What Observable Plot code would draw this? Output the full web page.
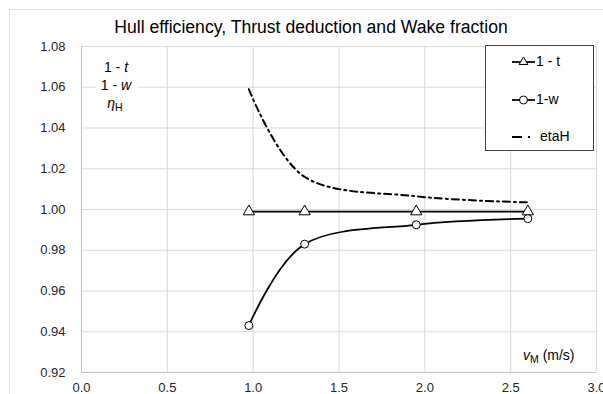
<!DOCTYPE html>
<html>
<head>
<meta charset="utf-8">
<script src="https://cdn.jsdelivr.net/npm/d3@7"></script>
<script src="https://cdn.jsdelivr.net/npm/@observablehq/plot@0.6"></script>
<style>
  html, body { margin: 0; padding: 0; background: #fff; overflow: hidden; }
  #wrap { position: relative; width: 603px; height: 394px; }
  #border { position: absolute; left: 9px; top: 9px; width: 700px; height: 500px; border: 1px solid #eeee80; box-sizing: border-box; }
  #chart { position: absolute; left: 0; top: 0; }
</style>
</head>
<body>
<div id="wrap"><div id="border"></div><div id="chart"></div></div>
<script>
const title = "Hull efficiency, Thrust deduction and Wake fraction";
const speeds = [0.975, 1.30, 1.95, 2.60];
const oneMinusT = [0.999, 0.999, 0.999, 0.999];
const oneMinusW = [0.943, 0.983, 0.9925, 0.9955];
const etaH = [1.059, 1.016, 1.0065, 1.0035];
const seriesNames = ["1 - t", "1-w", "etaH"];
const xTicks = [0, 0.5, 1.0, 1.5, 2.0, 2.5, 3.0];
const yTicks = [0.92, 0.94, 0.96, 0.98, 1.00, 1.02, 1.04, 1.06, 1.08];

const rows = (ys) => speeds.map((v, i) => ({x: v, y: ys[i]}));
const tData = rows(oneMinusT), wData = rows(oneMinusW), eData = rows(etaH);
const FONT = "'Liberation Sans', Arial, sans-serif";

const W = 603, H = 394, ML = 81, MR = 7, MT = 46, MB = 22;

const plot = Plot.plot({
  width: W, height: H,
  marginLeft: ML, marginRight: MR, marginTop: MT, marginBottom: MB,
  style: {fontFamily: FONT, fontSize: "13px", color: "#262626", background: "transparent", overflow: "visible"},
  x: {domain: [0, 3], ticks: xTicks, tickFormat: d3.format(".1f"), label: null},
  y: {domain: [0.92, 1.08], ticks: yTicks, tickFormat: d3.format(".2f"), label: null},
  marks: [
    Plot.gridX(xTicks, {stroke: "#d9d9d9", strokeOpacity: 1, strokeWidth: 1}),
    Plot.gridY(yTicks, {stroke: "#d9d9d9", strokeOpacity: 1, strokeWidth: 1}),
    Plot.ruleX([0], {stroke: "#bfbfbf"}),
    Plot.ruleY([0.92], {stroke: "#bfbfbf"}),
    Plot.axisX({ticks: xTicks, tickSize: 0, tickPadding: 10, tickFormat: d3.format(".1f"), fontSize: 13}),
    Plot.axisY({ticks: yTicks, tickSize: 0, tickPadding: 16, tickFormat: d3.format(".2f"), fontSize: 13}),
    Plot.line(eData, {x: "x", y: "y", curve: "cardinal", stroke: "#000", strokeWidth: 2, strokeDasharray: "7,4,2,4"}),
    Plot.line(tData, {x: "x", y: "y", curve: "linear", stroke: "#000", strokeWidth: 1.75}),
    Plot.line(wData, {x: "x", y: "y", curve: "cardinal", stroke: "#000", strokeWidth: 1.75}),
    Plot.dot(tData, {x: "x", y: "y", symbol: "triangle", r: 4.2, fill: "#fff", stroke: "#000", strokeWidth: 1}),
    Plot.dot(wData, {x: "x", y: "y", symbol: "circle", r: 4, fill: "#fff", stroke: "#000", strokeWidth: 1})
  ]
});
document.getElementById("chart").appendChild(plot);

const svg = d3.select(plot);
// title
svg.append("text").attr("x", 311).attr("y", 28).attr("text-anchor", "middle")
  .attr("dominant-baseline", "middle").attr("font-family", FONT).attr("font-size", 17.6)
  .attr("fill", "#000").text(title);

// y annotation with white background
const ann = svg.append("g").attr("font-family", FONT).attr("font-size", 14).attr("fill", "#000").attr("text-anchor", "middle");
ann.append("rect").attr("x", 96).attr("y", 58).attr("width", 42).attr("height", 56).attr("fill", "#fff");
const a1 = ann.append("text").attr("x", 116).attr("y", 72);
a1.append("tspan").text("1 - ");
a1.append("tspan").attr("font-style", "italic").text("t");
const a2 = ann.append("text").attr("x", 116).attr("y", 90);
a2.append("tspan").text("1 - ");
a2.append("tspan").attr("font-style", "italic").text("w");
const a3 = ann.append("text").attr("x", 115).attr("y", 108);
a3.append("tspan").attr("font-style", "italic").text("η");
a3.append("tspan").attr("font-size", 10.5).attr("dy", 3).text("H");

// x annotation
const xl = svg.append("text").attr("x", 523).attr("y", 360).attr("text-anchor", "start").attr("font-family", FONT).attr("font-size", 14).attr("fill", "#000");
xl.append("tspan").attr("font-style", "italic").text("v");
xl.append("tspan").attr("font-size", 10.5).attr("dy", 3).text("M");
xl.append("tspan").attr("dy", -3).attr("font-size", 14).text(" (m/s)");

// legend
const lg = svg.append("g").attr("font-family", FONT).attr("font-size", 14).attr("fill", "#000").attr("text-anchor", "start");
lg.append("rect").attr("x", 485.5).attr("y", 45.5).attr("width", 108).attr("height", 105)
  .attr("fill", "#fff").attr("stroke", "#404040").attr("stroke-width", 1);
const ly = [62, 100, 137];
seriesNames.forEach((name, i) => {
  const y = ly[i];
  const g = lg.append("g");
  if (i < 2) {
    g.append("line").attr("x1", 512).attr("x2", 535).attr("y1", y).attr("y2", y).attr("stroke", "#000").attr("stroke-width", 1.75);
    if (i === 0) {
      g.append("path").attr("transform", `translate(523.5,${y})`).attr("d", d3.symbol(d3.symbolTriangle2, 4.2 * 4.2 * Math.PI)())
        .attr("fill", "#fff").attr("stroke", "#000");
    } else {
      g.append("circle").attr("cx", 523.5).attr("cy", y).attr("r", 4).attr("fill", "#fff").attr("stroke", "#000");
    }
  } else {
    g.append("line").attr("x1", 512).attr("x2", 531).attr("y1", y).attr("y2", y).attr("stroke", "#000").attr("stroke-width", 2).attr("stroke-dasharray", "10,6,2,10");
  }
  g.append("text").attr("x", i === 2 ? 540 : 536).attr("y", y).attr("dominant-baseline", "middle").text(name);
});
</script>
</body>
</html>
